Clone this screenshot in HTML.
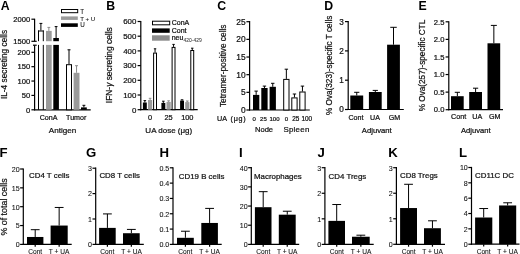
<!DOCTYPE html>
<html><head><meta charset="utf-8"><style>
html,body{margin:0;padding:0;background:#fff;width:520px;height:254px;overflow:hidden}
svg{display:block;filter:blur(0.4px)}
text{font-family:"Liberation Sans", sans-serif}
text:not([font-weight]){stroke:#111;stroke-width:0.22px}
</style></head><body>
<svg width="520" height="254" viewBox="0 0 520 254">
<rect width="520" height="254" fill="#fff"/>
<text x="0.8" y="9.6" font-size="12.3" text-anchor="start" font-weight="bold" fill="#000">A</text>
<text x="106.3" y="9.6" font-size="12.3" text-anchor="start" font-weight="bold" fill="#000">B</text>
<text x="217.2" y="9.9" font-size="12.3" text-anchor="start" font-weight="bold" fill="#000">C</text>
<text x="324.3" y="9.6" font-size="12.3" text-anchor="start" font-weight="bold" fill="#000">D</text>
<text x="418.4" y="9.6" font-size="12.3" text-anchor="start" font-weight="bold" fill="#000">E</text>
<text x="-0.5" y="156.9" font-size="13.2" text-anchor="start" font-weight="bold" fill="#000">F</text>
<text x="86.1" y="156.9" font-size="13.2" text-anchor="start" font-weight="bold" fill="#000">G</text>
<text x="159.6" y="156.9" font-size="13.2" text-anchor="start" font-weight="bold" fill="#000">H</text>
<text x="239.0" y="156.9" font-size="13.2" text-anchor="start" font-weight="bold" fill="#000">I</text>
<text x="317.4" y="156.9" font-size="13.2" text-anchor="start" font-weight="bold" fill="#000">J</text>
<text x="388.3" y="156.9" font-size="13.2" text-anchor="start" font-weight="bold" fill="#000">K</text>
<text x="459.0" y="156.9" font-size="13.2" text-anchor="start" font-weight="bold" fill="#000">L</text>
<line x1="34.6" y1="18.7" x2="34.6" y2="41.3" stroke="#000" stroke-width="1.2"/>
<line x1="31.400000000000002" y1="19.2" x2="34.6" y2="19.2" stroke="#000" stroke-width="1.2"/>
<text x="30.200000000000003" y="21.9" font-size="7.6" text-anchor="end" fill="#111">2000</text>
<line x1="31.400000000000002" y1="41.3" x2="36.7" y2="41.3" stroke="#000" stroke-width="1.2"/>
<text x="30.200000000000003" y="44.0" font-size="7.6" text-anchor="end" fill="#111">1500</text>
<line x1="34.6" y1="45.2" x2="34.6" y2="110.3" stroke="#000" stroke-width="1.2"/>
<line x1="33.0" y1="45.2" x2="36.7" y2="45.2" stroke="#000" stroke-width="1.2"/>
<line x1="31.400000000000002" y1="52.3" x2="34.6" y2="52.3" stroke="#000" stroke-width="1.2"/>
<text x="30.200000000000003" y="55.0" font-size="7.6" text-anchor="end" fill="#111">200</text>
<line x1="31.400000000000002" y1="66.675" x2="34.6" y2="66.675" stroke="#000" stroke-width="1.2"/>
<text x="30.200000000000003" y="69.375" font-size="7.6" text-anchor="end" fill="#111">150</text>
<line x1="31.400000000000002" y1="81.05" x2="34.6" y2="81.05" stroke="#000" stroke-width="1.2"/>
<text x="30.200000000000003" y="83.75" font-size="7.6" text-anchor="end" fill="#111">100</text>
<line x1="31.400000000000002" y1="95.425" x2="34.6" y2="95.425" stroke="#000" stroke-width="1.2"/>
<text x="30.200000000000003" y="98.125" font-size="7.6" text-anchor="end" fill="#111">50</text>
<line x1="31.400000000000002" y1="109.8" x2="34.6" y2="109.8" stroke="#000" stroke-width="1.2"/>
<text x="30.200000000000003" y="112.5" font-size="7.6" text-anchor="end" fill="#111">0</text>
<line x1="34.0" y1="109.8" x2="90.7" y2="109.8" stroke="#000" stroke-width="1.2"/>
<line x1="40.9" y1="23.4" x2="40.9" y2="30.5" stroke="#000" stroke-width="1.0"/>
<line x1="39.45" y1="23.4" x2="42.349999999999994" y2="23.4" stroke="#000" stroke-width="1.0"/>
<line x1="38.5" y1="30.5" x2="38.5" y2="41.2" stroke="#000" stroke-width="1.0"/>
<line x1="43.3" y1="30.5" x2="43.3" y2="41.2" stroke="#000" stroke-width="1.0"/>
<line x1="38.0" y1="31.0" x2="43.8" y2="31.0" stroke="#000" stroke-width="1.0"/>
<line x1="38.5" y1="44.9" x2="38.5" y2="109.8" stroke="#000" stroke-width="1.0"/>
<line x1="43.3" y1="44.9" x2="43.3" y2="109.8" stroke="#000" stroke-width="1.0"/>
<line x1="48.85" y1="27.4" x2="48.85" y2="30.9" stroke="#8a8a8a" stroke-width="1.0"/>
<line x1="47.425" y1="27.4" x2="50.275000000000006" y2="27.4" stroke="#8a8a8a" stroke-width="1.0"/>
<rect x="46.0" y="30.9" width="5.700000000000003" height="10.300000000000004" fill="#9a9a9a"/>
<rect x="46.0" y="44.9" width="5.700000000000003" height="64.9" fill="#9a9a9a"/>
<line x1="56.099999999999994" y1="26.6" x2="56.099999999999994" y2="38.0" stroke="#000" stroke-width="1.0"/>
<line x1="54.699999999999996" y1="26.6" x2="57.49999999999999" y2="26.6" stroke="#000" stroke-width="1.0"/>
<rect x="53.3" y="38.0" width="5.600000000000001" height="3.200000000000003" fill="#000"/>
<rect x="53.3" y="44.9" width="5.600000000000001" height="64.9" fill="#000"/>
<line x1="69.0" y1="49.8" x2="69.0" y2="64.2" stroke="#000" stroke-width="1.0"/>
<line x1="67.5" y1="49.8" x2="70.5" y2="49.8" stroke="#000" stroke-width="1.0"/>
<rect x="66.5" y="64.7" width="5.0" height="45.099999999999994" fill="#fff" stroke="#000" stroke-width="1.0"/>
<line x1="76.55" y1="65.7" x2="76.55" y2="72.8" stroke="#8a8a8a" stroke-width="1.0"/>
<line x1="75.07499999999999" y1="65.7" x2="78.025" y2="65.7" stroke="#8a8a8a" stroke-width="1.0"/>
<rect x="73.6" y="72.8" width="5.900000000000006" height="37.0" fill="#9a9a9a"/>
<line x1="83.9" y1="105.3" x2="83.9" y2="107.4" stroke="#000" stroke-width="1.0"/>
<line x1="82.45" y1="105.3" x2="85.35000000000001" y2="105.3" stroke="#000" stroke-width="1.0"/>
<rect x="81.0" y="107.4" width="5.799999999999997" height="2.3999999999999915" fill="#000"/>
<rect x="61.5" y="9.5" width="16.2" height="3.2" fill="#fff" stroke="#000" stroke-width="1.0"/>
<rect x="61.0" y="16.4" width="16.8" height="3.5" fill="#9a9a9a"/>
<rect x="61.0" y="23.3" width="16.8" height="3.6" fill="#000"/>
<text x="80.3" y="13.5" font-size="6.3" text-anchor="start" fill="#111" style="stroke-width:0.08px">T</text>
<text x="80.3" y="20.5" font-size="6.1" text-anchor="start" fill="#111" style="stroke-width:0.08px">T + U</text>
<text x="80.3" y="27.4" font-size="6.3" text-anchor="start" fill="#111" style="stroke-width:0.08px">U</text>
<text x="48.6" y="120.2" font-size="7.1" text-anchor="middle" fill="#111">ConA</text>
<text x="76.2" y="120.2" font-size="7.1" text-anchor="middle" fill="#111">Tumor</text>
<text x="62.5" y="133.2" font-size="8.1" text-anchor="middle" fill="#111">Antigen</text>
<text x="6.6" y="64.5" font-size="8.3" text-anchor="middle" fill="#111" transform="rotate(-90 6.6 64.5)">IL-4 secreting cells</text>
<line x1="140.8" y1="20.9" x2="140.8" y2="110.3" stroke="#000" stroke-width="1.2"/>
<line x1="137.60000000000002" y1="21.5" x2="140.8" y2="21.5" stroke="#000" stroke-width="1.2"/>
<text x="136.40000000000003" y="24.344" font-size="7.9" text-anchor="end" fill="#111">600</text>
<line x1="137.60000000000002" y1="36.2" x2="140.8" y2="36.2" stroke="#000" stroke-width="1.2"/>
<text x="136.40000000000003" y="39.044000000000004" font-size="7.9" text-anchor="end" fill="#111">500</text>
<line x1="137.60000000000002" y1="50.900000000000006" x2="140.8" y2="50.900000000000006" stroke="#000" stroke-width="1.2"/>
<text x="136.40000000000003" y="53.74400000000001" font-size="7.9" text-anchor="end" fill="#111">400</text>
<line x1="137.60000000000002" y1="65.6" x2="140.8" y2="65.6" stroke="#000" stroke-width="1.2"/>
<text x="136.40000000000003" y="68.44399999999999" font-size="7.9" text-anchor="end" fill="#111">300</text>
<line x1="137.60000000000002" y1="80.30000000000001" x2="140.8" y2="80.30000000000001" stroke="#000" stroke-width="1.2"/>
<text x="136.40000000000003" y="83.144" font-size="7.9" text-anchor="end" fill="#111">200</text>
<line x1="137.60000000000002" y1="95.0" x2="140.8" y2="95.0" stroke="#000" stroke-width="1.2"/>
<text x="136.40000000000003" y="97.844" font-size="7.9" text-anchor="end" fill="#111">100</text>
<line x1="137.60000000000002" y1="109.7" x2="140.8" y2="109.7" stroke="#000" stroke-width="1.2"/>
<text x="136.40000000000003" y="112.544" font-size="7.9" text-anchor="end" fill="#111">0</text>
<line x1="140.20000000000002" y1="109.7" x2="197.7" y2="109.7" stroke="#000" stroke-width="1.2"/>
<line x1="144.85000000000002" y1="100.6" x2="144.85000000000002" y2="102.5" stroke="#000" stroke-width="1.0"/>
<line x1="143.55" y1="100.6" x2="146.15000000000003" y2="100.6" stroke="#000" stroke-width="1.0"/>
<rect x="142.9" y="102.5" width="3.9000000000000057" height="7.200000000000003" fill="#000"/>
<line x1="150.10000000000002" y1="98.3" x2="150.10000000000002" y2="100.0" stroke="#8a8a8a" stroke-width="1.0"/>
<line x1="148.8" y1="98.3" x2="151.40000000000003" y2="98.3" stroke="#8a8a8a" stroke-width="1.0"/>
<rect x="148.0" y="100.0" width="4.200000000000017" height="9.700000000000003" fill="#9a9a9a"/>
<line x1="155.05" y1="48.8" x2="155.05" y2="52.6" stroke="#000" stroke-width="1.0"/>
<line x1="153.85000000000002" y1="48.8" x2="156.25" y2="48.8" stroke="#000" stroke-width="1.0"/>
<rect x="153.6" y="53.1" width="2.9000000000000057" height="56.6" fill="#fff" stroke="#000" stroke-width="1.0"/>
<line x1="163.35000000000002" y1="101.2" x2="163.35000000000002" y2="102.9" stroke="#000" stroke-width="1.0"/>
<line x1="162.05" y1="101.2" x2="164.65000000000003" y2="101.2" stroke="#000" stroke-width="1.0"/>
<rect x="161.4" y="102.9" width="3.9000000000000057" height="6.799999999999997" fill="#000"/>
<line x1="168.60000000000002" y1="100.8" x2="168.60000000000002" y2="101.9" stroke="#8a8a8a" stroke-width="1.0"/>
<line x1="167.3" y1="100.8" x2="169.90000000000003" y2="100.8" stroke="#8a8a8a" stroke-width="1.0"/>
<rect x="166.5" y="101.9" width="4.200000000000017" height="7.799999999999997" fill="#9a9a9a"/>
<line x1="173.55" y1="44.4" x2="173.55" y2="46.9" stroke="#000" stroke-width="1.0"/>
<line x1="172.35000000000002" y1="44.4" x2="174.75" y2="44.4" stroke="#000" stroke-width="1.0"/>
<rect x="172.1" y="47.4" width="2.9000000000000057" height="62.300000000000004" fill="#fff" stroke="#000" stroke-width="1.0"/>
<line x1="182.05" y1="99.8" x2="182.05" y2="100.6" stroke="#000" stroke-width="1.0"/>
<line x1="180.75" y1="99.8" x2="183.35000000000002" y2="99.8" stroke="#000" stroke-width="1.0"/>
<rect x="180.1" y="100.6" width="3.9000000000000057" height="9.100000000000009" fill="#000"/>
<line x1="187.3" y1="101.0" x2="187.3" y2="102.1" stroke="#8a8a8a" stroke-width="1.0"/>
<line x1="186.0" y1="101.0" x2="188.60000000000002" y2="101.0" stroke="#8a8a8a" stroke-width="1.0"/>
<rect x="185.2" y="102.1" width="4.200000000000017" height="7.6000000000000085" fill="#9a9a9a"/>
<line x1="192.25" y1="48.2" x2="192.25" y2="50.0" stroke="#000" stroke-width="1.0"/>
<line x1="191.05" y1="48.2" x2="193.45" y2="48.2" stroke="#000" stroke-width="1.0"/>
<rect x="190.79999999999998" y="50.5" width="2.9000000000000057" height="59.2" fill="#fff" stroke="#000" stroke-width="1.0"/>
<rect x="152.5" y="21.2" width="17.2" height="3.6" fill="#fff" stroke="#000" stroke-width="1.0"/>
<rect x="152.0" y="28.4" width="17.7" height="4.4" fill="#000"/>
<rect x="152.0" y="35.3" width="17.7" height="5.4" fill="#8c8c8c"/>
<text x="171.7" y="25.3" font-size="7.0" text-anchor="start" fill="#111">ConA</text>
<text x="171.7" y="33.0" font-size="7.0" text-anchor="start" fill="#111">Cont</text>
<text x="171.7" y="40.4" font-size="7.0" text-anchor="start" fill="#111">neu<tspan font-size="5.0" dy="1.3" fill="#444" style="stroke-width:0.05px">420-429</tspan></text>
<text x="150.0" y="119.8" font-size="7.4" text-anchor="middle" fill="#111">0</text>
<text x="168.5" y="119.8" font-size="7.4" text-anchor="middle" fill="#111">25</text>
<text x="187.3" y="119.8" font-size="7.4" text-anchor="middle" fill="#111">100</text>
<text x="168.8" y="133.0" font-size="8.0" text-anchor="middle" fill="#111">UA dose (μg)</text>
<text x="112.0" y="65.2" font-size="8.4" text-anchor="middle" fill="#111" transform="rotate(-90 112.0 65.2)">IFN-<tspan font-style="italic">γ</tspan> secreting cells</text>
<line x1="249.6" y1="21.099999999999998" x2="249.6" y2="110.6" stroke="#000" stroke-width="1.2"/>
<line x1="246.4" y1="21.700000000000003" x2="249.6" y2="21.700000000000003" stroke="#000" stroke-width="1.2"/>
<text x="245.6" y="24.724000000000004" font-size="8.4" text-anchor="end" fill="#111">25</text>
<line x1="246.4" y1="39.36" x2="249.6" y2="39.36" stroke="#000" stroke-width="1.2"/>
<text x="245.6" y="42.384" font-size="8.4" text-anchor="end" fill="#111">20</text>
<line x1="246.4" y1="57.02" x2="249.6" y2="57.02" stroke="#000" stroke-width="1.2"/>
<text x="245.6" y="60.044000000000004" font-size="8.4" text-anchor="end" fill="#111">15</text>
<line x1="246.4" y1="74.68" x2="249.6" y2="74.68" stroke="#000" stroke-width="1.2"/>
<text x="245.6" y="77.70400000000001" font-size="8.4" text-anchor="end" fill="#111">10</text>
<line x1="246.4" y1="92.34" x2="249.6" y2="92.34" stroke="#000" stroke-width="1.2"/>
<text x="245.6" y="95.364" font-size="8.4" text-anchor="end" fill="#111">5</text>
<line x1="246.4" y1="110.0" x2="249.6" y2="110.0" stroke="#000" stroke-width="1.2"/>
<text x="245.6" y="113.024" font-size="8.4" text-anchor="end" fill="#111">0</text>
<line x1="249.0" y1="110.0" x2="309.8" y2="110.0" stroke="#000" stroke-width="1.2"/>
<line x1="256.15" y1="91.1" x2="256.15" y2="94.9" stroke="#000" stroke-width="1.0"/>
<line x1="254.45" y1="91.1" x2="257.84999999999997" y2="91.1" stroke="#000" stroke-width="1.0"/>
<rect x="253.0" y="94.9" width="6.300000000000011" height="15.099999999999994" fill="#000"/>
<line x1="264.45000000000005" y1="86.1" x2="264.45000000000005" y2="88.0" stroke="#000" stroke-width="1.0"/>
<line x1="262.75000000000006" y1="86.1" x2="266.15000000000003" y2="86.1" stroke="#000" stroke-width="1.0"/>
<rect x="261.3" y="88.0" width="6.300000000000011" height="22.0" fill="#000"/>
<line x1="272.75" y1="83.3" x2="272.75" y2="86.8" stroke="#000" stroke-width="1.0"/>
<line x1="271.05" y1="83.3" x2="274.45" y2="83.3" stroke="#000" stroke-width="1.0"/>
<rect x="269.6" y="86.8" width="6.300000000000011" height="23.200000000000003" fill="#000"/>
<line x1="286.35" y1="69.2" x2="286.35" y2="78.9" stroke="#000" stroke-width="1.0"/>
<line x1="284.65000000000003" y1="69.2" x2="288.05" y2="69.2" stroke="#000" stroke-width="1.0"/>
<rect x="283.7" y="79.4" width="5.300000000000011" height="30.599999999999994" fill="#fff" stroke="#000" stroke-width="1.0"/>
<line x1="294.45000000000005" y1="94.0" x2="294.45000000000005" y2="97.4" stroke="#000" stroke-width="1.0"/>
<line x1="292.75000000000006" y1="94.0" x2="296.15000000000003" y2="94.0" stroke="#000" stroke-width="1.0"/>
<rect x="291.8" y="97.9" width="5.300000000000011" height="12.099999999999994" fill="#fff" stroke="#000" stroke-width="1.0"/>
<line x1="302.45000000000005" y1="86.1" x2="302.45000000000005" y2="91.5" stroke="#000" stroke-width="1.0"/>
<line x1="300.75000000000006" y1="86.1" x2="304.15000000000003" y2="86.1" stroke="#000" stroke-width="1.0"/>
<rect x="299.8" y="92.0" width="5.300000000000011" height="18.0" fill="#fff" stroke="#000" stroke-width="1.0"/>
<text x="254.2" y="121.0" font-size="6.0" text-anchor="middle" fill="#111">0</text>
<text x="263.4" y="121.0" font-size="6.0" text-anchor="middle" fill="#111">25</text>
<text x="274.5" y="121.0" font-size="6.0" text-anchor="middle" fill="#111">100</text>
<text x="286.4" y="121.0" font-size="6.0" text-anchor="middle" fill="#111">0</text>
<text x="295.7" y="121.0" font-size="6.4" text-anchor="middle" fill="#111">25</text>
<text x="306.8" y="121.0" font-size="6.4" text-anchor="middle" fill="#111">100</text>
<text x="217.0" y="121.2" font-size="7.2" text-anchor="start" fill="#111">UA</text>
<text x="230.6" y="121.2" font-size="7.2" text-anchor="start" fill="#111" letter-spacing="0.7">(μg)</text>
<text x="264.0" y="132.0" font-size="7.6" text-anchor="middle" fill="#111">Node</text>
<text x="296.5" y="132.0" font-size="7.9" text-anchor="middle" fill="#111" letter-spacing="0.25">Spleen</text>
<text x="225.8" y="65.8" font-size="8.3" text-anchor="middle" fill="#111" transform="rotate(-90 225.8 65.8)">Tetramer-positive cells</text>
<line x1="348.2" y1="21.0" x2="348.2" y2="110.1" stroke="#000" stroke-width="1.2"/>
<line x1="345.0" y1="21.59999999999998" x2="348.2" y2="21.59999999999998" stroke="#000" stroke-width="1.2"/>
<text x="343.8" y="24.55199999999998" font-size="8.2" text-anchor="end" fill="#111">3</text>
<line x1="345.0" y1="50.9" x2="348.2" y2="50.9" stroke="#000" stroke-width="1.2"/>
<text x="343.8" y="53.852" font-size="8.2" text-anchor="end" fill="#111">2</text>
<line x1="345.0" y1="80.2" x2="348.2" y2="80.2" stroke="#000" stroke-width="1.2"/>
<text x="343.8" y="83.152" font-size="8.2" text-anchor="end" fill="#111">1</text>
<line x1="345.0" y1="109.5" x2="348.2" y2="109.5" stroke="#000" stroke-width="1.2"/>
<text x="343.8" y="112.452" font-size="8.2" text-anchor="end" fill="#111">0</text>
<line x1="347.59999999999997" y1="109.5" x2="403.8" y2="109.5" stroke="#000" stroke-width="1.2"/>
<line x1="356.75" y1="92.3" x2="356.75" y2="95.5" stroke="#000" stroke-width="1.0"/>
<line x1="354.15" y1="92.3" x2="359.35" y2="92.3" stroke="#000" stroke-width="1.0"/>
<rect x="350.3" y="95.5" width="12.899999999999977" height="14.0" fill="#000"/>
<line x1="375.29999999999995" y1="90.4" x2="375.29999999999995" y2="92.0" stroke="#000" stroke-width="1.0"/>
<line x1="372.69999999999993" y1="90.4" x2="377.9" y2="90.4" stroke="#000" stroke-width="1.0"/>
<rect x="368.9" y="92.0" width="12.800000000000011" height="17.5" fill="#000"/>
<line x1="393.5" y1="27.3" x2="393.5" y2="44.7" stroke="#000" stroke-width="1.0"/>
<line x1="390.25" y1="27.3" x2="396.75" y2="27.3" stroke="#000" stroke-width="1.0"/>
<rect x="387.1" y="44.7" width="12.799999999999955" height="64.8" fill="#000"/>
<text x="356.0" y="119.7" font-size="7.1" text-anchor="middle" fill="#111">Cont</text>
<text x="375.0" y="119.7" font-size="7.1" text-anchor="middle" fill="#111">UA</text>
<text x="394.4" y="119.7" font-size="7.1" text-anchor="middle" fill="#111">GM</text>
<text x="376.8" y="132.6" font-size="7.7" text-anchor="middle" fill="#111">Adjuvant</text>
<text x="331.6" y="65.3" font-size="8.2" text-anchor="middle" fill="#111" transform="rotate(-90 331.6 65.3)">% Ova(323)-specific T cells</text>
<line x1="448.8" y1="21.2" x2="448.8" y2="110.3" stroke="#000" stroke-width="1.2"/>
<line x1="445.6" y1="21.799999999999997" x2="448.8" y2="21.799999999999997" stroke="#000" stroke-width="1.2"/>
<text x="444.40000000000003" y="24.535999999999998" font-size="7.6" text-anchor="end" fill="#111">2.5</text>
<line x1="445.6" y1="39.379999999999995" x2="448.8" y2="39.379999999999995" stroke="#000" stroke-width="1.2"/>
<text x="444.40000000000003" y="42.11599999999999" font-size="7.6" text-anchor="end" fill="#111">2.0</text>
<line x1="445.6" y1="56.959999999999994" x2="448.8" y2="56.959999999999994" stroke="#000" stroke-width="1.2"/>
<text x="444.40000000000003" y="59.69599999999999" font-size="7.6" text-anchor="end" fill="#111">1.5</text>
<line x1="445.6" y1="74.53999999999999" x2="448.8" y2="74.53999999999999" stroke="#000" stroke-width="1.2"/>
<text x="444.40000000000003" y="77.276" font-size="7.6" text-anchor="end" fill="#111">1.0</text>
<line x1="445.6" y1="92.12" x2="448.8" y2="92.12" stroke="#000" stroke-width="1.2"/>
<text x="444.40000000000003" y="94.85600000000001" font-size="7.6" text-anchor="end" fill="#111">0.5</text>
<line x1="445.6" y1="109.7" x2="448.8" y2="109.7" stroke="#000" stroke-width="1.2"/>
<text x="444.40000000000003" y="112.436" font-size="7.6" text-anchor="end" fill="#111">0.0</text>
<line x1="448.2" y1="109.7" x2="503.0" y2="109.7" stroke="#000" stroke-width="1.2"/>
<line x1="457.35" y1="92.3" x2="457.35" y2="96.2" stroke="#000" stroke-width="1.0"/>
<line x1="454.75" y1="92.3" x2="459.95000000000005" y2="92.3" stroke="#000" stroke-width="1.0"/>
<rect x="451.0" y="96.2" width="12.699999999999989" height="13.5" fill="#000"/>
<line x1="475.6" y1="88.2" x2="475.6" y2="92.0" stroke="#000" stroke-width="1.0"/>
<line x1="473.0" y1="88.2" x2="478.20000000000005" y2="88.2" stroke="#000" stroke-width="1.0"/>
<rect x="469.2" y="92.0" width="12.800000000000011" height="17.700000000000003" fill="#000"/>
<line x1="493.85" y1="25.4" x2="493.85" y2="43.3" stroke="#000" stroke-width="1.0"/>
<line x1="490.85" y1="25.4" x2="496.85" y2="25.4" stroke="#000" stroke-width="1.0"/>
<rect x="487.5" y="43.3" width="12.699999999999989" height="66.4" fill="#000"/>
<text x="458.6" y="119.0" font-size="7.2" text-anchor="middle" fill="#111">Cont</text>
<text x="477.2" y="119.0" font-size="7.2" text-anchor="middle" fill="#111">UA</text>
<text x="494.8" y="119.0" font-size="7.2" text-anchor="middle" fill="#111">GM</text>
<text x="475.8" y="132.6" font-size="7.6" text-anchor="middle" fill="#111">Adjuvant</text>
<text x="425.0" y="65.5" font-size="8.2" text-anchor="middle" fill="#111" transform="rotate(-90 425.0 65.5)">% Ova(257)-specific CTL</text>
<line x1="23.3" y1="168.4" x2="23.3" y2="245.0" stroke="#000" stroke-width="1.2"/>
<line x1="20.1" y1="169.0" x2="23.3" y2="169.0" stroke="#000" stroke-width="1.2"/>
<text x="19.6" y="171.85600000000002" font-size="7.1" text-anchor="end" fill="#111" style="stroke-width:0.08px">20</text>
<line x1="20.1" y1="187.85000000000002" x2="23.3" y2="187.85000000000002" stroke="#000" stroke-width="1.2"/>
<text x="19.6" y="190.70600000000005" font-size="7.1" text-anchor="end" fill="#111" style="stroke-width:0.08px">15</text>
<line x1="20.1" y1="206.7" x2="23.3" y2="206.7" stroke="#000" stroke-width="1.2"/>
<text x="19.6" y="209.556" font-size="7.1" text-anchor="end" fill="#111" style="stroke-width:0.08px">10</text>
<line x1="20.1" y1="225.55" x2="23.3" y2="225.55" stroke="#000" stroke-width="1.2"/>
<text x="19.6" y="228.40600000000003" font-size="7.1" text-anchor="end" fill="#111" style="stroke-width:0.08px">5</text>
<line x1="20.1" y1="244.4" x2="23.3" y2="244.4" stroke="#000" stroke-width="1.2"/>
<text x="19.6" y="247.25600000000003" font-size="7.1" text-anchor="end" fill="#111" style="stroke-width:0.08px">0</text>
<line x1="22.7" y1="244.4" x2="71.7" y2="244.4" stroke="#000" stroke-width="1.2"/>
<line x1="35.2" y1="229.697" x2="35.2" y2="236.97310000000002" stroke="#000" stroke-width="1.0"/>
<line x1="30.800000000000004" y1="229.697" x2="39.6" y2="229.697" stroke="#000" stroke-width="1.0"/>
<rect x="27.0" y="236.97310000000002" width="16.4" height="7.426899999999989" fill="#000"/>
<line x1="35.2" y1="244.4" x2="35.2" y2="246.8" stroke="#000" stroke-width="1.2"/>
<line x1="59.150000000000006" y1="207.454" x2="59.150000000000006" y2="225.55" stroke="#000" stroke-width="1.0"/>
<line x1="54.75000000000001" y1="207.454" x2="63.550000000000004" y2="207.454" stroke="#000" stroke-width="1.0"/>
<rect x="50.6" y="225.55" width="17.1" height="18.849999999999994" fill="#000"/>
<line x1="59.150000000000006" y1="244.4" x2="59.150000000000006" y2="246.8" stroke="#000" stroke-width="1.2"/>
<text x="29.0" y="178.2" font-size="7.9" text-anchor="start" fill="#111">CD4 T cells</text>
<text x="35.2" y="253.5" font-size="6.6" text-anchor="middle" fill="#111" style="stroke-width:0.08px">Cont</text>
<text x="59.1" y="253.5" font-size="6.6" text-anchor="middle" fill="#111" style="stroke-width:0.08px">T + UA</text>
<line x1="95.7" y1="167.6" x2="95.7" y2="245.0" stroke="#000" stroke-width="1.2"/>
<line x1="92.5" y1="168.2" x2="95.7" y2="168.2" stroke="#000" stroke-width="1.2"/>
<text x="92.0" y="171.056" font-size="7.1" text-anchor="end" fill="#111" style="stroke-width:0.08px">3</text>
<line x1="92.5" y1="193.6" x2="95.7" y2="193.6" stroke="#000" stroke-width="1.2"/>
<text x="92.0" y="196.45600000000002" font-size="7.1" text-anchor="end" fill="#111" style="stroke-width:0.08px">2</text>
<line x1="92.5" y1="219.0" x2="95.7" y2="219.0" stroke="#000" stroke-width="1.2"/>
<text x="92.0" y="221.85600000000002" font-size="7.1" text-anchor="end" fill="#111" style="stroke-width:0.08px">1</text>
<line x1="92.5" y1="244.4" x2="95.7" y2="244.4" stroke="#000" stroke-width="1.2"/>
<text x="92.0" y="247.25600000000003" font-size="7.1" text-anchor="end" fill="#111" style="stroke-width:0.08px">0</text>
<line x1="95.10000000000001" y1="244.4" x2="143.8" y2="244.4" stroke="#000" stroke-width="1.2"/>
<line x1="107.4" y1="213.92000000000002" x2="107.4" y2="227.89" stroke="#000" stroke-width="1.0"/>
<line x1="103.0" y1="213.92000000000002" x2="111.80000000000001" y2="213.92000000000002" stroke="#000" stroke-width="1.0"/>
<rect x="99.1" y="227.89" width="16.60000000000001" height="16.51000000000002" fill="#000"/>
<line x1="107.4" y1="244.4" x2="107.4" y2="246.8" stroke="#000" stroke-width="1.2"/>
<line x1="131.35" y1="229.41400000000002" x2="131.35" y2="233.224" stroke="#000" stroke-width="1.0"/>
<line x1="126.94999999999999" y1="229.41400000000002" x2="135.75" y2="229.41400000000002" stroke="#000" stroke-width="1.0"/>
<rect x="123.0" y="233.224" width="16.69999999999999" height="11.176000000000016" fill="#000"/>
<line x1="131.35" y1="244.4" x2="131.35" y2="246.8" stroke="#000" stroke-width="1.2"/>
<text x="99.4" y="178.2" font-size="7.9" text-anchor="start" fill="#111">CD8 T cells</text>
<text x="107.3" y="253.5" font-size="6.6" text-anchor="middle" fill="#111" style="stroke-width:0.08px">Cont</text>
<text x="131.5" y="253.5" font-size="6.6" text-anchor="middle" fill="#111" style="stroke-width:0.08px">T + UA</text>
<line x1="173.0" y1="167.20000000000002" x2="173.0" y2="245.0" stroke="#000" stroke-width="1.2"/>
<line x1="169.8" y1="167.8" x2="173.0" y2="167.8" stroke="#000" stroke-width="1.2"/>
<text x="169.3" y="170.65600000000003" font-size="7.1" text-anchor="end" fill="#111" style="stroke-width:0.08px">0.5</text>
<line x1="169.8" y1="183.12" x2="173.0" y2="183.12" stroke="#000" stroke-width="1.2"/>
<text x="169.3" y="185.97600000000003" font-size="7.1" text-anchor="end" fill="#111" style="stroke-width:0.08px">0.4</text>
<line x1="169.8" y1="198.44" x2="173.0" y2="198.44" stroke="#000" stroke-width="1.2"/>
<text x="169.3" y="201.29600000000002" font-size="7.1" text-anchor="end" fill="#111" style="stroke-width:0.08px">0.3</text>
<line x1="169.8" y1="213.76" x2="173.0" y2="213.76" stroke="#000" stroke-width="1.2"/>
<text x="169.3" y="216.616" font-size="7.1" text-anchor="end" fill="#111" style="stroke-width:0.08px">0.2</text>
<line x1="169.8" y1="229.08" x2="173.0" y2="229.08" stroke="#000" stroke-width="1.2"/>
<text x="169.3" y="231.93600000000004" font-size="7.1" text-anchor="end" fill="#111" style="stroke-width:0.08px">0.1</text>
<line x1="169.8" y1="244.4" x2="173.0" y2="244.4" stroke="#000" stroke-width="1.2"/>
<text x="169.3" y="247.25600000000003" font-size="7.1" text-anchor="end" fill="#111" style="stroke-width:0.08px">0.0</text>
<line x1="172.4" y1="244.4" x2="221.7" y2="244.4" stroke="#000" stroke-width="1.2"/>
<line x1="185.4" y1="231.22480000000002" x2="185.4" y2="237.8124" stroke="#000" stroke-width="1.0"/>
<line x1="181.0" y1="231.22480000000002" x2="189.8" y2="231.22480000000002" stroke="#000" stroke-width="1.0"/>
<rect x="177.0" y="237.8124" width="16.80000000000001" height="6.587600000000009" fill="#000"/>
<line x1="185.4" y1="244.4" x2="185.4" y2="246.8" stroke="#000" stroke-width="1.2"/>
<line x1="209.60000000000002" y1="208.39800000000002" x2="209.60000000000002" y2="222.952" stroke="#000" stroke-width="1.0"/>
<line x1="205.20000000000002" y1="208.39800000000002" x2="214.00000000000003" y2="208.39800000000002" stroke="#000" stroke-width="1.0"/>
<rect x="201.3" y="222.952" width="16.599999999999994" height="21.448000000000008" fill="#000"/>
<line x1="209.60000000000002" y1="244.4" x2="209.60000000000002" y2="246.8" stroke="#000" stroke-width="1.2"/>
<text x="178.8" y="178.9" font-size="7.9" text-anchor="start" fill="#111">CD19 B cells</text>
<text x="185.3" y="253.5" font-size="6.6" text-anchor="middle" fill="#111" style="stroke-width:0.08px">Cont</text>
<text x="209.6" y="253.5" font-size="6.6" text-anchor="middle" fill="#111" style="stroke-width:0.08px">T + UA</text>
<line x1="251.3" y1="167.1" x2="251.3" y2="245.0" stroke="#000" stroke-width="1.2"/>
<line x1="248.10000000000002" y1="167.7" x2="251.3" y2="167.7" stroke="#000" stroke-width="1.2"/>
<text x="247.60000000000002" y="170.556" font-size="7.1" text-anchor="end" fill="#111" style="stroke-width:0.08px">40</text>
<line x1="248.10000000000002" y1="186.875" x2="251.3" y2="186.875" stroke="#000" stroke-width="1.2"/>
<text x="247.60000000000002" y="189.73100000000002" font-size="7.1" text-anchor="end" fill="#111" style="stroke-width:0.08px">30</text>
<line x1="248.10000000000002" y1="206.05" x2="251.3" y2="206.05" stroke="#000" stroke-width="1.2"/>
<text x="247.60000000000002" y="208.90600000000003" font-size="7.1" text-anchor="end" fill="#111" style="stroke-width:0.08px">20</text>
<line x1="248.10000000000002" y1="225.225" x2="251.3" y2="225.225" stroke="#000" stroke-width="1.2"/>
<text x="247.60000000000002" y="228.08100000000002" font-size="7.1" text-anchor="end" fill="#111" style="stroke-width:0.08px">10</text>
<line x1="248.10000000000002" y1="244.4" x2="251.3" y2="244.4" stroke="#000" stroke-width="1.2"/>
<text x="247.60000000000002" y="247.25600000000003" font-size="7.1" text-anchor="end" fill="#111" style="stroke-width:0.08px">0</text>
<line x1="250.70000000000002" y1="244.4" x2="299.2" y2="244.4" stroke="#000" stroke-width="1.2"/>
<line x1="263.2" y1="191.66875" x2="263.2" y2="207.2005" stroke="#000" stroke-width="1.0"/>
<line x1="258.8" y1="191.66875" x2="267.59999999999997" y2="191.66875" stroke="#000" stroke-width="1.0"/>
<rect x="254.9" y="207.2005" width="16.599999999999994" height="37.1995" fill="#000"/>
<line x1="263.2" y1="244.4" x2="263.2" y2="246.8" stroke="#000" stroke-width="1.2"/>
<line x1="287.25" y1="211.22725" x2="287.25" y2="214.67875" stroke="#000" stroke-width="1.0"/>
<line x1="282.85" y1="211.22725" x2="291.65" y2="211.22725" stroke="#000" stroke-width="1.0"/>
<rect x="278.8" y="214.67875" width="16.899999999999977" height="29.721249999999998" fill="#000"/>
<line x1="287.25" y1="244.4" x2="287.25" y2="246.8" stroke="#000" stroke-width="1.2"/>
<text x="254.0" y="178.6" font-size="7.9" text-anchor="start" fill="#111">Macrophages</text>
<text x="263.3" y="253.5" font-size="6.6" text-anchor="middle" fill="#111" style="stroke-width:0.08px">Cont</text>
<text x="287.2" y="253.5" font-size="6.6" text-anchor="middle" fill="#111" style="stroke-width:0.08px">T + UA</text>
<line x1="324.9" y1="167.1" x2="324.9" y2="245.0" stroke="#000" stroke-width="1.2"/>
<line x1="321.7" y1="167.7" x2="324.9" y2="167.7" stroke="#000" stroke-width="1.2"/>
<text x="321.2" y="170.556" font-size="7.1" text-anchor="end" fill="#111" style="stroke-width:0.08px">3</text>
<line x1="321.7" y1="193.26666666666665" x2="324.9" y2="193.26666666666665" stroke="#000" stroke-width="1.2"/>
<text x="321.2" y="196.12266666666667" font-size="7.1" text-anchor="end" fill="#111" style="stroke-width:0.08px">2</text>
<line x1="321.7" y1="218.83333333333334" x2="324.9" y2="218.83333333333334" stroke="#000" stroke-width="1.2"/>
<text x="321.2" y="221.68933333333337" font-size="7.1" text-anchor="end" fill="#111" style="stroke-width:0.08px">1</text>
<line x1="321.7" y1="244.4" x2="324.9" y2="244.4" stroke="#000" stroke-width="1.2"/>
<text x="321.2" y="247.25600000000003" font-size="7.1" text-anchor="end" fill="#111" style="stroke-width:0.08px">0</text>
<line x1="324.29999999999995" y1="244.4" x2="373.7" y2="244.4" stroke="#000" stroke-width="1.2"/>
<line x1="336.7" y1="204.516" x2="336.7" y2="220.87866666666667" stroke="#000" stroke-width="1.0"/>
<line x1="332.3" y1="204.516" x2="341.09999999999997" y2="204.516" stroke="#000" stroke-width="1.0"/>
<rect x="328.4" y="220.87866666666667" width="16.600000000000023" height="23.52133333333333" fill="#000"/>
<line x1="336.7" y1="244.4" x2="336.7" y2="246.8" stroke="#000" stroke-width="1.2"/>
<line x1="360.85" y1="235.196" x2="360.85" y2="236.73000000000002" stroke="#000" stroke-width="1.0"/>
<line x1="356.45000000000005" y1="235.196" x2="365.25" y2="235.196" stroke="#000" stroke-width="1.0"/>
<rect x="352.0" y="236.73000000000002" width="17.69999999999999" height="7.6699999999999875" fill="#000"/>
<line x1="360.85" y1="244.4" x2="360.85" y2="246.8" stroke="#000" stroke-width="1.2"/>
<text x="328.6" y="178.6" font-size="7.9" text-anchor="start" fill="#111">CD4 Tregs</text>
<text x="336.8" y="253.5" font-size="6.6" text-anchor="middle" fill="#111" style="stroke-width:0.08px">Cont</text>
<text x="361.0" y="253.5" font-size="6.6" text-anchor="middle" fill="#111" style="stroke-width:0.08px">T + UA</text>
<line x1="396.4" y1="167.1" x2="396.4" y2="244.9" stroke="#000" stroke-width="1.2"/>
<line x1="393.2" y1="167.7" x2="396.4" y2="167.7" stroke="#000" stroke-width="1.2"/>
<text x="392.7" y="170.556" font-size="7.1" text-anchor="end" fill="#111" style="stroke-width:0.08px">3</text>
<line x1="393.2" y1="193.23333333333332" x2="396.4" y2="193.23333333333332" stroke="#000" stroke-width="1.2"/>
<text x="392.7" y="196.08933333333334" font-size="7.1" text-anchor="end" fill="#111" style="stroke-width:0.08px">2</text>
<line x1="393.2" y1="218.76666666666668" x2="396.4" y2="218.76666666666668" stroke="#000" stroke-width="1.2"/>
<text x="392.7" y="221.6226666666667" font-size="7.1" text-anchor="end" fill="#111" style="stroke-width:0.08px">1</text>
<line x1="393.2" y1="244.3" x2="396.4" y2="244.3" stroke="#000" stroke-width="1.2"/>
<text x="392.7" y="247.15600000000003" font-size="7.1" text-anchor="end" fill="#111" style="stroke-width:0.08px">0</text>
<line x1="395.79999999999995" y1="244.3" x2="445.0" y2="244.3" stroke="#000" stroke-width="1.2"/>
<line x1="408.55" y1="184.29666666666665" x2="408.55" y2="208.04266666666666" stroke="#000" stroke-width="1.0"/>
<line x1="404.15000000000003" y1="184.29666666666665" x2="412.95" y2="184.29666666666665" stroke="#000" stroke-width="1.0"/>
<rect x="400.1" y="208.04266666666666" width="16.899999999999977" height="36.25733333333335" fill="#000"/>
<line x1="408.55" y1="244.3" x2="408.55" y2="246.70000000000002" stroke="#000" stroke-width="1.2"/>
<line x1="432.45" y1="220.80933333333334" x2="432.45" y2="228.214" stroke="#000" stroke-width="1.0"/>
<line x1="428.05" y1="220.80933333333334" x2="436.84999999999997" y2="220.80933333333334" stroke="#000" stroke-width="1.0"/>
<rect x="424.0" y="228.214" width="16.899999999999977" height="16.086000000000013" fill="#000"/>
<line x1="432.45" y1="244.3" x2="432.45" y2="246.70000000000002" stroke="#000" stroke-width="1.2"/>
<text x="400.0" y="178.2" font-size="7.9" text-anchor="start" fill="#111">CD8 Tregs</text>
<text x="408.6" y="253.5" font-size="6.6" text-anchor="middle" fill="#111" style="stroke-width:0.08px">Cont</text>
<text x="432.5" y="253.5" font-size="6.6" text-anchor="middle" fill="#111" style="stroke-width:0.08px">T + UA</text>
<line x1="471.5" y1="166.9" x2="471.5" y2="244.79999999999998" stroke="#000" stroke-width="1.2"/>
<line x1="468.3" y1="167.5" x2="471.5" y2="167.5" stroke="#000" stroke-width="1.2"/>
<text x="467.8" y="170.35600000000002" font-size="7.1" text-anchor="end" fill="#111" style="stroke-width:0.08px">10</text>
<line x1="468.3" y1="182.84" x2="471.5" y2="182.84" stroke="#000" stroke-width="1.2"/>
<text x="467.8" y="185.69600000000003" font-size="7.1" text-anchor="end" fill="#111" style="stroke-width:0.08px">8</text>
<line x1="468.3" y1="198.18" x2="471.5" y2="198.18" stroke="#000" stroke-width="1.2"/>
<text x="467.8" y="201.03600000000003" font-size="7.1" text-anchor="end" fill="#111" style="stroke-width:0.08px">6</text>
<line x1="468.3" y1="213.51999999999998" x2="471.5" y2="213.51999999999998" stroke="#000" stroke-width="1.2"/>
<text x="467.8" y="216.376" font-size="7.1" text-anchor="end" fill="#111" style="stroke-width:0.08px">4</text>
<line x1="468.3" y1="228.85999999999999" x2="471.5" y2="228.85999999999999" stroke="#000" stroke-width="1.2"/>
<text x="467.8" y="231.716" font-size="7.1" text-anchor="end" fill="#111" style="stroke-width:0.08px">2</text>
<line x1="468.3" y1="244.2" x2="471.5" y2="244.2" stroke="#000" stroke-width="1.2"/>
<text x="467.8" y="247.056" font-size="7.1" text-anchor="end" fill="#111" style="stroke-width:0.08px">0</text>
<line x1="470.9" y1="244.2" x2="519.5" y2="244.2" stroke="#000" stroke-width="1.2"/>
<line x1="483.70000000000005" y1="208.53449999999998" x2="483.70000000000005" y2="217.5084" stroke="#000" stroke-width="1.0"/>
<line x1="479.30000000000007" y1="208.53449999999998" x2="488.1" y2="208.53449999999998" stroke="#000" stroke-width="1.0"/>
<rect x="475.1" y="217.5084" width="17.19999999999999" height="26.691599999999994" fill="#000"/>
<line x1="483.70000000000005" y1="244.2" x2="483.70000000000005" y2="246.6" stroke="#000" stroke-width="1.2"/>
<line x1="507.65000000000003" y1="202.78199999999998" x2="507.65000000000003" y2="205.4665" stroke="#000" stroke-width="1.0"/>
<line x1="503.25000000000006" y1="202.78199999999998" x2="512.0500000000001" y2="202.78199999999998" stroke="#000" stroke-width="1.0"/>
<rect x="499.1" y="205.4665" width="17.100000000000023" height="38.73349999999999" fill="#000"/>
<line x1="507.65000000000003" y1="244.2" x2="507.65000000000003" y2="246.6" stroke="#000" stroke-width="1.2"/>
<text x="475.0" y="178.0" font-size="7.9" text-anchor="start" fill="#111">CD11C DC</text>
<text x="483.6" y="253.5" font-size="6.6" text-anchor="middle" fill="#111" style="stroke-width:0.08px">Cont</text>
<text x="507.5" y="253.5" font-size="6.6" text-anchor="middle" fill="#111" style="stroke-width:0.08px">T + UA</text>
<text x="6.8" y="207.0" font-size="8.9" text-anchor="middle" fill="#111" transform="rotate(-90 6.8 207.0)">% of total cells</text>
</svg>
</body></html>
